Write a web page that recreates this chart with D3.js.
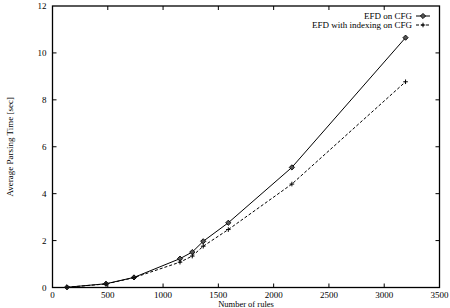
<!DOCTYPE html>
<html><head><meta charset="utf-8">
<script src="https://cdn.jsdelivr.net/npm/d3@7"></script>
<style>body{margin:0;background:#fff}svg{display:block}text{font-family:"Liberation Serif","Times New Roman",serif;fill:#000}</style>
</head><body><svg id="c" width="450" height="308"></svg>
<script>
const rules = [131, 484, 737, 1153, 1264, 1363, 1590, 2165, 3193];
const efd = [0.01, 0.16, 0.43, 1.23, 1.51, 1.97, 2.76, 5.12, 10.65];
const efdIdx = [0.01, 0.15, 0.42, 1.08, 1.34, 1.76, 2.47, 4.41, 8.77];
const xTicks = [0, 500, 1000, 1500, 2000, 2500, 3000, 3500];
const yTicks = [0, 2, 4, 6, 8, 10, 12];
const seriesNames = ["EFD on CFG", "EFD with indexing on CFG"];

const svg = d3.select("#c");
const L = 52.5, R = 439.5, T = 6, B = 287.5;
const x = d3.scaleLinear().domain([0, 3500]).range([L, R]);
const y = d3.scaleLinear().domain([0, 12]).range([B, T]);

const tl = 4;
const g = svg.append("g");
xTicks.forEach(v => {
  if (v === 0 || v === 3500) return;
  g.append("line").attr("x1", x(v)).attr("x2", x(v)).attr("y1", B).attr("y2", B - tl).attr("stroke", "#000").attr("stroke-width", 1);
  g.append("line").attr("x1", x(v)).attr("x2", x(v)).attr("y1", T).attr("y2", T + tl).attr("stroke", "#000").attr("stroke-width", 1);
});
yTicks.forEach(v => {
  if (v === 0 || v === 12) return;
  g.append("line").attr("y1", y(v)).attr("y2", y(v)).attr("x1", L).attr("x2", L + tl).attr("stroke", "#000").attr("stroke-width", 1);
  g.append("line").attr("y1", y(v)).attr("y2", y(v)).attr("x1", R).attr("x2", R - tl).attr("stroke", "#000").attr("stroke-width", 1);
});
xTicks.forEach(v => {
  g.append("text").attr("x", x(v)).attr("y", B + 10).attr("text-anchor", "middle").attr("font-size", 9).text(v);
});
yTicks.forEach(v => {
  g.append("text").attr("x", L - 6).attr("y", y(v) + 3).attr("text-anchor", "end").attr("font-size", 9).text(v);
});
svg.append("rect").attr("x", L).attr("y", T).attr("width", R - L).attr("height", B - T).attr("fill", "none").attr("stroke", "#000").attr("stroke-width", 1.3);

svg.append("text").attr("x", (L + R) / 2).attr("y", 307).attr("text-anchor", "middle").attr("font-size", 8.5).text("Number of rules");
svg.append("text").attr("transform", `translate(13,${(T + B) / 2}) rotate(-90)`).attr("text-anchor", "middle").attr("font-size", 9).text("Average Parsing Time [sec]");

const line = d3.line().x(d => x(d[0])).y(d => y(d[1]));
const d1 = rules.map((r, i) => [r, efd[i]]);
const d2 = rules.map((r, i) => [r, efdIdx[i]]);
svg.append("path").attr("d", line(d1)).attr("fill", "none").attr("stroke", "#000").attr("stroke-width", 1);
svg.append("path").attr("d", line(d2)).attr("fill", "none").attr("stroke", "#000").attr("stroke-width", 1).attr("stroke-dasharray", "3,2");

function diamond(px, py) {
  svg.append("path").attr("d", `M${px},${py - 2.6}L${px + 2.6},${py}L${px},${py + 2.6}L${px - 2.6},${py}Z`).attr("fill", "#555").attr("stroke", "#000").attr("stroke-width", 0.9);
}
function plus(px, py) {
  svg.append("path").attr("d", `M${px - 2.3},${py}H${px + 2.3}M${px},${py - 2.3}V${py + 2.3}`).attr("stroke", "#000").attr("stroke-width", 1);
}
d1.forEach(d => diamond(x(d[0]), y(d[1])));
d2.forEach(d => plus(x(d[0]), y(d[1])));

const lx1 = 416, lx2 = 430;
const rows = [16, 25];
svg.append("text").attr("x", lx1 - 4).attr("y", rows[0] + 3).attr("text-anchor", "end").attr("font-size", 9).text(seriesNames[0]);
svg.append("line").attr("x1", lx1).attr("x2", lx2).attr("y1", rows[0]).attr("y2", rows[0]).attr("stroke", "#000");
diamond((lx1 + lx2) / 2, rows[0]);
svg.append("text").attr("x", lx1 - 4).attr("y", rows[1] + 3).attr("text-anchor", "end").attr("font-size", 9).text(seriesNames[1]);
svg.append("line").attr("x1", lx1).attr("x2", lx2).attr("y1", rows[1]).attr("y2", rows[1]).attr("stroke", "#000").attr("stroke-dasharray", "3,2");
plus((lx1 + lx2) / 2, rows[1]);
</script></body></html>
